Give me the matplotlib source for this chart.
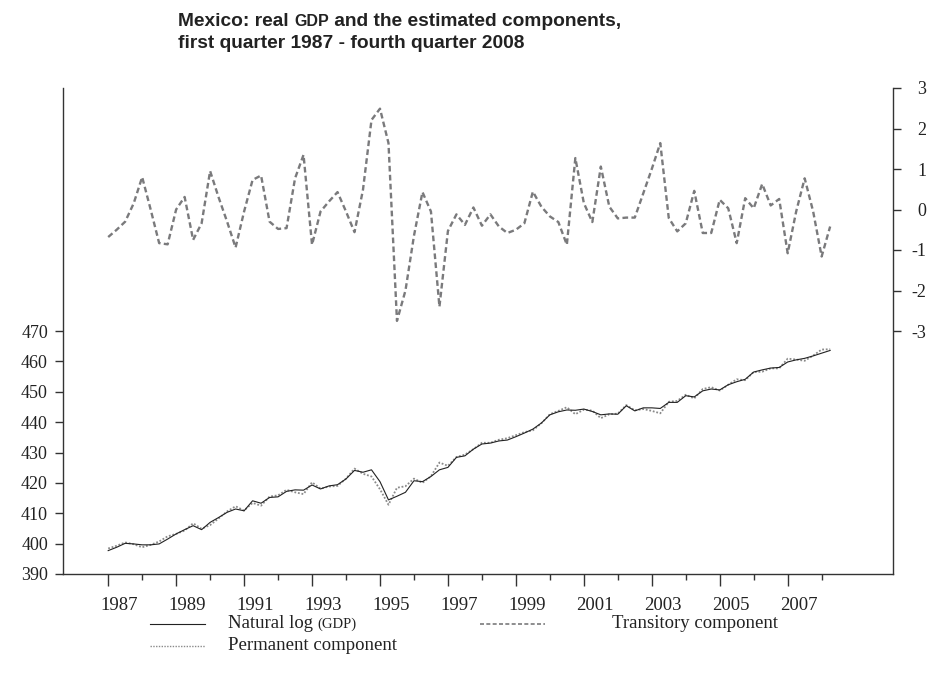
import numpy as np
import matplotlib
matplotlib.use("Agg")
from matplotlib import pyplot as plt
from matplotlib.lines import Line2D
from matplotlib.transforms import ScaledTranslation

# 100*ln(real GDP), quarterly 1987Q1 onwards
ln_gdp = [397.7, 398.8, 400.1, 399.9, 399.6, 399.6, 399.9, 401.5, 403.2, 404.6,
          405.9, 404.6, 407.0, 408.6, 410.3, 411.4, 410.8, 414.1, 413.3, 415.2,
          415.4, 417.2, 417.7, 417.6, 419.3, 418.0, 419.0, 419.4, 421.3, 424.1,
          423.5, 424.3, 420.4, 414.4, 415.6, 416.9, 420.7, 420.4, 422.1, 424.3,
          425.1, 428.4, 428.9, 431.1, 432.8, 433.1, 433.8, 434.1, 435.2, 436.4,
          437.7, 439.7, 442.4, 443.4, 444.0, 443.9, 444.3, 443.5, 442.4, 442.7,
          442.6, 445.4, 443.7, 444.7, 444.7, 444.5, 446.5, 446.5, 448.7, 448.3,
          450.3, 450.9, 450.6, 452.3, 453.3, 454.1, 456.5, 457.2, 457.8, 458.0,
          459.8, 460.5, 461.0, 461.8, 462.7, 463.6]

permanent = [398.4, 399.3, 400.4, 399.8, 398.8, 399.6, 400.7, 402.4, 403.2, 404.3,
             406.7, 404.9, 406.1, 408.3, 410.6, 412.3, 410.9, 413.4, 412.5, 415.5,
             415.9, 417.7, 416.9, 416.3, 420.2, 418.1, 418.8, 419.0, 421.4, 424.7,
             423.0, 422.1, 417.9, 412.8, 418.4, 418.9, 421.4, 420.0, 422.2, 426.7,
             425.6, 428.5, 429.3, 431.1, 433.2, 433.2, 434.2, 434.7, 435.7, 436.7,
             437.3, 439.6, 442.6, 443.7, 444.9, 442.6, 444.1, 443.8, 441.3, 442.6,
             442.8, 445.6, 443.9, 444.3, 443.7, 442.9, 446.7, 447.0, 449.0, 447.8,
             450.9, 451.5, 450.4, 452.3, 454.1, 453.8, 456.5, 456.6, 457.7, 457.7,
             460.9, 460.6, 460.2, 461.9, 463.9, 464.0]

transitory = [-0.68, -0.5, -0.3, 0.15, 0.8, 0.0, -0.83, -0.86, 0.0, 0.31,
              -0.75, -0.34, 0.95, 0.3, -0.3, -0.94, -0.05, 0.73, 0.84, -0.3,
              -0.48, -0.46, 0.77, 1.35, -0.87, -0.05, 0.2, 0.43, -0.05, -0.56,
              0.49, 2.21, 2.49, 1.64, -2.75, -2.0, -0.65, 0.43, -0.05, -2.4,
              -0.53, -0.12, -0.38, 0.05, -0.4, -0.12, -0.42, -0.58, -0.5, -0.34,
              0.44, 0.07, -0.17, -0.31, -0.87, 1.27, 0.16, -0.31, 1.06, 0.07,
              -0.22, -0.2, -0.2, 0.4, 1.0, 1.64, -0.21, -0.54, -0.34, 0.46,
              -0.58, -0.58, 0.24, 0.03, -0.83, 0.28, 0.03, 0.63, 0.1, 0.26,
              -1.08, -0.05, 0.77, -0.05, -1.16, -0.42]

start_year = 1987
year_labels = list(range(1987, 2008, 2))
left_ticks = [390, 400, 410, 420, 430, 440, 450, 460, 470]
right_ticks = [-3, -2, -1, 0, 1, 2, 3]

quarters = start_year + np.arange(len(ln_gdp)) / 4

W, H = 928, 679
serif = "Liberation Serif"
ink = "#222222"
gray = "#7a7a7c"

fig = plt.figure(figsize=(W / 100, H / 100), dpi=100)
ax = fig.add_axes([63 / W, 1 - 574 / H, (893 - 63) / W, (574 - 88) / H])
ax2 = ax.twinx()

ax.plot(quarters, ln_gdp, color=ink, lw=0.8, zorder=3)
ax.plot(quarters, permanent, color="#8a8a8a", lw=1.3, linestyle=(0, (1, 1)), zorder=2)
ax2.plot(quarters, transitory, color=gray, lw=1.7, linestyle=(0, (2.4, 1.4)))

ax.set_xlim(1985.67, 2010.1)
ax.set_ylim(390, 550)
ax2.set_ylim(-9, 3)

ax.set_xticks(year_labels)
ax.set_xticklabels([str(y) for y in year_labels], fontfamily=serif, fontsize=13.5, color=ink)
ax.set_xticks(np.array(year_labels) + 1, minor=True)
ax.set_yticks(left_ticks)
ax.set_yticklabels([str(v) for v in left_ticks], fontfamily=serif, fontsize=13, color=ink)
ax2.set_yticks(right_ticks)
ax2.set_yticklabels([str(v) for v in right_ticks], fontfamily=serif, fontsize=13, color=ink,
                    ha="right")

ax.tick_params(axis="x", which="major", length=8.6, width=1, color="#333333", pad=8)
ax.tick_params(axis="x", which="minor", length=4.3, width=1, color="#333333")
ax.tick_params(axis="y", length=5.8, width=1, color="#333333", pad=5)
ax2.tick_params(axis="y", length=5.8, width=1, color="#333333", pad=18)

for lab in ax.get_xticklabels():
    lab.set_transform(lab.get_transform() + ScaledTranslation(0.11, 0, fig.dpi_scale_trans))

for s in ["top", "right"]:
    ax.spines[s].set_visible(False)
for s in ["top", "left", "bottom"]:
    ax2.spines[s].set_visible(False)
for sp in [ax.spines["left"], ax.spines["bottom"], ax2.spines["right"]]:
    sp.set_color("#333333")
    sp.set_linewidth(1.0)

renderer = fig.canvas.get_renderer()


def mixed_text(x, y, parts, **kw):
    # draw pieces one after another, each piece with its own size
    for s, size in parts:
        t = fig.text(x / W, 1 - y / H, s, fontsize=size, va="center", ha="left", **kw)
        x += t.get_window_extent(renderer=renderer).width


mixed_text(178, 21, [("Mexico: real ", 13.8), ("GDP", 11.5),
                     (" and the estimated components,", 13.8)],
           fontfamily="Liberation Sans", fontweight="bold", color=ink)
mixed_text(178, 44, [("first quarter 1987 - fourth quarter 2008", 13.8)],
           fontfamily="Liberation Sans", fontweight="bold", color=ink)

# legend
fig.add_artist(Line2D([150 / W, 205 / W], [1 - 624 / H] * 2, color=ink, lw=0.8))
fig.add_artist(Line2D([480 / W, 545 / W], [1 - 624 / H] * 2, color=gray, lw=1.2,
                      linestyle=(0, (2.4, 1.4))))
fig.add_artist(Line2D([150 / W, 205 / W], [1 - 646 / H] * 2, color="#8a8a8a", lw=1.0,
                      linestyle=(0, (1, 1))))
mixed_text(228, 624, [("Natural log ", 13.5), ("(GDP)", 10.5)], fontfamily=serif, color=ink)
mixed_text(612, 624, [("Transitory component", 13.5)], fontfamily=serif, color=ink)
mixed_text(228, 646, [("Permanent component", 13.5)], fontfamily=serif, color=ink)

fig.savefig("out.png", dpi=100)
